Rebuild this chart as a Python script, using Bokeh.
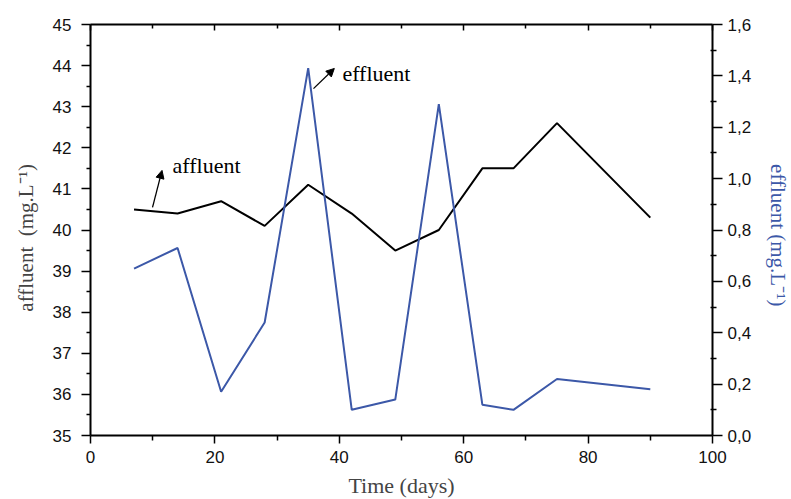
from bokeh.plotting import figure
from bokeh.models import (Range1d, LinearAxis, FixedTicker, CustomJSTickFormatter,
                          Arrow, NormalHead, Label)
from bokeh.embed import file_html
from bokeh.resources import INLINE

# ---- data ----
days = [7, 14, 21, 28, 35, 42, 49, 56, 63, 68, 75, 90]
affluent = [40.5, 40.4, 40.7, 40.1, 41.1, 40.4, 39.5, 40.0, 41.5, 41.5, 42.6, 40.3]
effluent = [0.65, 0.73, 0.17, 0.44, 1.43, 0.10, 0.14, 1.29, 0.12, 0.10, 0.22, 0.18]

x_major = [0, 20, 40, 60, 80, 100]
x_minor = [10, 30, 50, 70, 90]
yl_major = [35, 36, 37, 38, 39, 40, 41, 42, 43, 44, 45]
yr_major = [0.0, 0.2, 0.4, 0.6, 0.8, 1.0, 1.2, 1.4, 1.6]

BLUE = "#3C58A8"
SERIF = "Liberation Serif"
SANS = "Liberation Sans"
NB = "\u00a0"

p = figure(frame_width=622, frame_height=411, output_backend="svg", toolbar_location=None,
           x_range=Range1d(0, 100), y_range=Range1d(35, 45),
           min_border_left=90, min_border_right=79, min_border_top=24, min_border_bottom=64,
           x_axis_location=None, y_axis_location=None)
p.extra_y_ranges = {"eff": Range1d(0, 1.6)}
p.grid.visible = False
p.outline_line_color = None
p.background_fill_color = "white"
p.border_fill_color = "white"

def style(ax, tick_in, tick_out, minor_in, minor_out):
    ax.axis_line_width = 2
    ax.axis_line_color = "black"
    ax.major_tick_line_width = 1.5
    ax.minor_tick_line_width = 1.5
    ax.major_tick_line_color = "black"
    ax.minor_tick_line_color = "black"
    ax.major_tick_in = tick_in
    ax.major_tick_out = tick_out
    ax.minor_tick_in = minor_in
    ax.minor_tick_out = minor_out
    ax.major_label_text_font = SANS
    ax.major_label_text_font_size = "17px"
    ax.major_label_text_color = "#111111"
    ax.axis_label_text_font = SERIF
    ax.axis_label_text_font_size = "21px"
    ax.axis_label_text_font_style = "normal"

# bottom axis
xb = LinearAxis(ticker=FixedTicker(ticks=x_major, minor_ticks=x_minor), axis_label="Time (days)")
style(xb, 0, 8, 0, 5)
xb.major_label_standoff = 7
xb.axis_label_standoff = 7
xb.axis_label_text_font_size = "22px"
p.add_layout(xb, "below")

# top axis (no labels)
xt = LinearAxis(ticker=FixedTicker(ticks=x_major, minor_ticks=x_minor),
                formatter=CustomJSTickFormatter(code="return '';"))
style(xt, 6, 0, 4, 0)
xt.major_label_standoff = 0
p.add_layout(xt, "above")

# left axis
minor_l = [v + 0.5 for v in yl_major[:-1]]
yl = LinearAxis(ticker=FixedTicker(ticks=yl_major, minor_ticks=minor_l),
                axis_label="affluent" + NB + NB + "(mg.L\u207b\u00b9)" + NB * 3)
style(yl, 0, 9, 0, 4)
yl.major_label_standoff = 10
yl.axis_label_standoff = 12
p.add_layout(yl, "left")

# right axis
minor_r = [round(v + 0.1, 2) for v in yr_major[:-1]]
yr = LinearAxis(y_range_name="eff", ticker=FixedTicker(ticks=yr_major, minor_ticks=minor_r),
                axis_label=NB * 2 + "effluent" + NB + "(mg.L\u207b\u00b9)",
                formatter=CustomJSTickFormatter(code="return tick.toFixed(1).replace('.', ',');"))
style(yr, 0, 10, 2, 4)
yr.major_label_standoff = 5
yr.axis_label_standoff = 12
yr.axis_label_text_color = BLUE
p.add_layout(yr, "right")

# lines
p.line(days, affluent, line_color="black", line_width=2)
p.line(days, effluent, line_color=BLUE, line_width=2, y_range_name="eff")

# annotations
p.add_layout(Label(x=13.2, y=41.56, text="affluent", text_font=SERIF,
                   text_font_size="22px", text_color="black", text_baseline="alphabetic"))
p.add_layout(Label(x=40.5, y=43.80, text="effluent", text_font=SERIF,
                   text_font_size="22px", text_color="black", text_baseline="alphabetic"))
p.add_layout(Arrow(x_start=9.97, y_start=40.55, x_end=11.5, y_end=41.45, line_width=1.3,
                   end=NormalHead(size=8, fill_color="black", line_color="black")))
p.add_layout(Arrow(x_start=35.85, y_start=43.44, x_end=39.2, y_end=43.93, line_width=1.3,
                   end=NormalHead(size=8, fill_color="black", line_color="black")))

open("out.html", "w").write(file_html(p, INLINE))
